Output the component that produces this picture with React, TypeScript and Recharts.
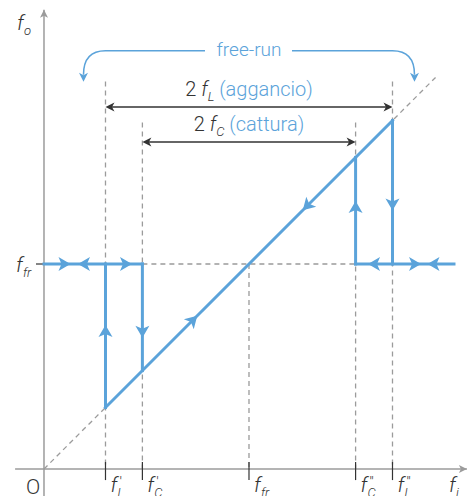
import React from "react";
import { ComposedChart, XAxis, YAxis, Line, ReferenceLine, ReferenceDot } from "recharts";

// PLL lock / capture hysteresis (f_o versus f_i)
const BLUE = "#5ba3da";
const DARK = "#333333";
const GUIDE = "#9b9b9b";
const FONT = "Roboto, 'Helvetica Neue', Arial, sans-serif";

const fFr = 10;
const fL1 = 3;
const fC1 = 4.8;
const fC2 = 15.2;
const fL2 = 17;

const xTicks = [fL1, fC1, fFr, fC2, fL2];
const xTickSup = ["'", "'", "", "''", "''"];
const xTickSub = ["L", "C", "fr", "C", "L"];

// blue characteristic, one small series per stroke
const freeLeft = [{ x: 0, y: fFr }, { x: fC1, y: fFr }];
const freeRight = [{ x: fC2, y: fFr }, { x: 20, y: fFr }];
const dropL1 = [{ x: fL1, y: fFr }, { x: fL1, y: fL1 }];
const dropC1 = [{ x: fC1, y: fFr }, { x: fC1, y: fC1 }];
const tracking = [{ x: fL1, y: fL1 }, { x: fL2, y: fL2 }];
const jumpC2 = [{ x: fC2, y: fC2 }, { x: fC2, y: fFr }];
const jumpL2 = [{ x: fL2, y: fL2 }, { x: fL2, y: fFr }];
const blueSeries = [freeLeft, freeRight, dropL1, dropC1, tracking, jumpC2, jumpL2];

const identity = [{ x: 0, y: 0 }, { x: 19.1, y: 19.1 }];

// direction arrows on the curve (angle in screen degrees)
const markerX = [1.0, 1.95, 4.0, fL1, fC1, 7.27, 12.83, fC2, fL2, 16.1, 18.1, 19.0];
const markerY = [fFr, fFr, fFr, 6.73, 6.7, 7.27, 12.83, 12.78, 12.9, fFr, fFr, fFr];
const markerDir = [0, 180, 0, -90, 90, -45, 135, -90, 90, 180, 0, 180];

// dashed guides: top of each vertical
const guideTops = [18.9, 16.9, fFr, 16.9, 18.9];

const spans = [
  { from: fL1, to: fL2, level: 17.66, sub: "L", note: " (aggancio)" },
  { from: fC1, to: fC2, level: 15.95, sub: "C", note: " (cattura)" },
];
const freeRun = { from: fL1, to: fL2, level: 20.4, text: "free-run" };

const axisLabels = [
  { x: -1.32, y: 21.4, main: "f", sub: "o", italic: true },
  { x: -1.37, y: 9.6, main: "f", sub: "fr", italic: true },
  { x: -0.88, y: -1.2, main: "O", sub: "", italic: false },
  { x: 19.76, y: -1.12, main: "f", sub: "i", italic: true },
];

const Head = ({ x, y, angle, len, hw, notch, fill }: any) => (
  <path
    transform={`translate(${x},${y}) rotate(${angle})`}
    d={`M0,0 L${-len},${-hw} L${-len + notch},0 L${-len},${hw} Z`}
    fill={fill}
    stroke="none"
  />
);

const axisShape = (p: any) => {
  const { x1, y1, x2, y2 } = p;
  const ang = (Math.atan2(y2 - y1, x2 - x1) * 180) / Math.PI;
  return (
    <g>
      <line x1={x1} y1={y1} x2={x2} y2={y2} stroke={GUIDE} strokeWidth={1.5} />
      <Head x={x2} y={y2} angle={ang} len={8} hw={4} notch={2} fill={GUIDE} />
    </g>
  );
};

const spanShape = (s: any) => (p: any) => {
  const { x1, y1, x2 } = p;
  const mid = (x1 + x2) / 2;
  return (
    <g>
      <line x1={x1 + 4} y1={y1} x2={x2 - 4} y2={y1} stroke={DARK} strokeWidth={1.5} />
      <Head x={x1} y={y1} angle={180} len={9} hw={4.5} notch={2.5} fill={DARK} />
      <Head x={x2} y={y1} angle={0} len={9} hw={4.5} notch={2.5} fill={DARK} />
      <text x={mid} y={y1 - 11} textAnchor="middle" fontFamily={FONT} fontWeight={300} fontSize={20} fill={DARK}>
        <tspan>2 </tspan>
        <tspan fontStyle="italic">f</tspan>
        <tspan fontStyle="italic" fontSize={13} dy={5}>{s.sub}</tspan>
        <tspan dy={-5} fill={BLUE}>{s.note}</tspan>
      </text>
    </g>
  );
};

const freeRunShape = (p: any) => {
  const { x1, y1, x2 } = p;
  const mid = (x1 + x2) / 2;
  return (
    <g fill="none" stroke={BLUE} strokeWidth={1.5}>
      <path d={`M${x1 - 22},${y1 + 24} Q${x1 - 22},${y1} ${x1},${y1} L${mid - 44},${y1}`} />
      <path d={`M${mid + 43},${y1} L${x2},${y1} Q${x2 + 22},${y1} ${x2 + 22},${y1 + 24}`} />
      <Head x={x1 - 22} y={y1 + 31} angle={90} len={9} hw={4.5} notch={2.5} fill={BLUE} />
      <Head x={x2 + 22} y={y1 + 31} angle={90} len={9} hw={4.5} notch={2.5} fill={BLUE} />
      <text x={mid} y={y1 + 5} textAnchor="middle" fontFamily={FONT} fontWeight={300} fontSize={19} fill={BLUE} stroke="none">
        {freeRun.text}
      </text>
    </g>
  );
};

const markerShape = (dir: number) => (p: any) => (
  <path
    transform={`translate(${p.cx},${p.cy}) rotate(${dir})`}
    d="M6,0 L-6,-7 L-3,0 L-6,7 Z"
    fill={BLUE}
  />
);

const labelShape = (main: string, sup: string, sub: string, italic: boolean) => (p: any) => (
  <g fontFamily={FONT} fontWeight={300} fill={DARK}>
    <text x={p.cx} y={p.cy} fontSize={21} fontStyle={italic ? "italic" : "normal"}>{main}</text>
    {sup && <text x={p.cx + 9} y={p.cy - 5} fontSize={15}>{sup}</text>}
    {sub && <text x={p.cx + 7} y={p.cy + 5} fontSize={13} fontStyle="italic">{sub}</text>}
  </g>
);

export default function App() {
  return (
    <div style={{ position: "absolute", left: 0, top: 0, background: "#fff" }}>
      <ComposedChart width={474} height={496} margin={{ top: 0, right: 0, bottom: 0, left: 0 }}>
        <XAxis dataKey="x" type="number" domain={[-2.146, 20.976]} allowDataOverflow hide />
        <YAxis dataKey="y" type="number" domain={[-1.317, 22.878]} allowDataOverflow hide />

        {/* dashed guides */}
        {xTicks.map((x, i) => (
          <ReferenceLine key={`g${i}`} segment={[{ x, y: guideTops[i] }, { x, y: 0 }]} stroke={GUIDE} strokeWidth={1.3} strokeDasharray="5 4" ifOverflow="visible" />
        ))}
        <ReferenceLine segment={[{ x: fC1, y: fFr }, { x: fC2, y: fFr }]} stroke={GUIDE} strokeWidth={1.3} strokeDasharray="5 4" ifOverflow="visible" />
        <ReferenceLine segment={[identity[0], identity[1]]} stroke={GUIDE} strokeWidth={1.3} strokeDasharray="5 4" ifOverflow="visible" />

        {/* axes */}
        <ReferenceLine segment={[{ x: -1.41, y: 0 }, { x: 20.63, y: 0 }]} shape={axisShape} ifOverflow="visible" />
        <ReferenceLine segment={[{ x: 0, y: -1.4 }, { x: 0, y: 22.4 }]} shape={axisShape} ifOverflow="visible" />
        {xTicks.map((x, i) => (
          <ReferenceLine key={`t${i}`} segment={[{ x, y: 0.34 }, { x, y: -0.54 }]} stroke={DARK} strokeWidth={1.2} ifOverflow="visible" />
        ))}
        <ReferenceLine segment={[{ x: -0.39, y: fFr }, { x: 0.44, y: fFr }]} stroke={DARK} strokeWidth={1.2} ifOverflow="visible" />

        {/* characteristic */}
        {blueSeries.map((d, i) => (
          <ReferenceLine key={`b${i}`} segment={[d[0], d[1]]} stroke={BLUE} strokeWidth={3} strokeLinecap="square" ifOverflow="visible" />
        ))}
        <Line data={identity} dataKey="y" stroke="none" dot={false} activeDot={false} legendType="none" isAnimationActive={false} />
        {markerX.map((x, i) => (
          <ReferenceDot key={`m${i}`} x={x} y={markerY[i]} r={0} shape={markerShape(markerDir[i])} ifOverflow="visible" />
        ))}

        {/* ranges */}
        {spans.map((s, i) => (
          <ReferenceLine key={`s${i}`} segment={[{ x: s.from, y: s.level }, { x: s.to, y: s.level }]} shape={spanShape(s)} ifOverflow="visible" />
        ))}
        <ReferenceLine segment={[{ x: freeRun.from, y: freeRun.level }, { x: freeRun.to, y: freeRun.level }]} shape={freeRunShape} ifOverflow="visible" />

        {/* labels */}
        {xTicks.map((x, i) => (
          <ReferenceDot key={`l${i}`} x={x + 0.24} y={-1.12} r={0} shape={labelShape("f", xTickSup[i], xTickSub[i], true)} ifOverflow="visible" />
        ))}
        {axisLabels.map((l, i) => (
          <ReferenceDot key={`a${i}`} x={l.x} y={l.y} r={0} shape={labelShape(l.main, "", l.sub, l.italic)} ifOverflow="visible" />
        ))}
      </ComposedChart>
    </div>
  );
}
